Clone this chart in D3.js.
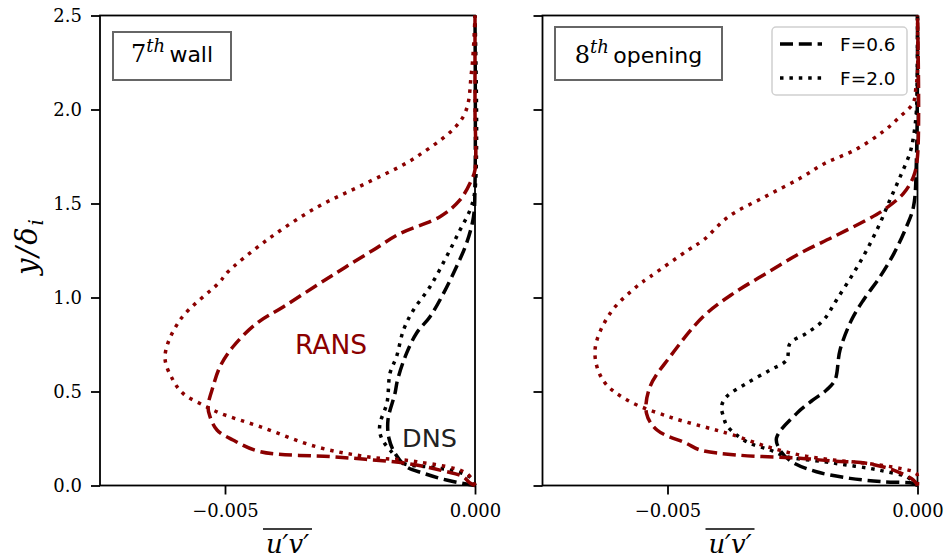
<!DOCTYPE html>
<html><head><meta charset="utf-8">
<script src="https://cdn.jsdelivr.net/npm/d3@7"></script>
<style>
body{margin:0;background:#fff}svg{display:block}
.serif{font-family:"DejaVu Serif","Liberation Serif",serif}
.sans{font-family:"DejaVu Sans",sans-serif}
</style>
</head><body>
<svg id="c" width="947" height="560"></svg>
<script>
// ---------------- data ----------------
const panelNames = ["wall", "opening"];
const panelOrdinals = ["7", "8"];
const legendLabels = ["F=0.6", "F=2.0"];
const yTicks = [0, 0.5, 1.0, 1.5, 2.0, 2.5];
const xTicks = [-0.005, 0.0];
const xDomain = [-0.0075, 0];
const yDomain = [0, 2.5];

// 7th wall
const wallRans06Y = [0, 0.013, 0.047, 0.082, 0.118, 0.136, 0.153, 0.18, 0.242, 0.295, 0.366, 0.42, 0.525, 0.632, 0.738, 0.862, 0.951, 1.093, 1.16, 1.25, 1.34, 1.43, 1.519, 1.625, 1.68, 2.0, 2.5];
const wallRans06X = [0, -0.0001, -0.00024, -0.0007, -0.00137, -0.00204, -0.00284, -0.0043, -0.00484, -0.00516, -0.0053, -0.00534, -0.00524, -0.0051, -0.00484, -0.00437, -0.00383, -0.003, -0.0026, -0.00205, -0.0015, -0.0007, -0.0003, -0.00007, 0, 0, 0];
const wallRans20Y = [0, 0.065, 0.127, 0.153, 0.206, 0.313, 0.385, 0.428, 0.49, 0.561, 0.685, 0.88, 1.084, 1.129, 1.306, 1.48, 1.61, 1.75, 1.96, 2.2, 2.5];
const wallRans20X = [0, -0.00017, -0.00117, -0.00216, -0.00317, -0.0043, -0.0051, -0.00544, -0.00584, -0.00604, -0.0062, -0.0059, -0.0051, -0.00497, -0.00416, -0.00316, -0.00216, -0.00116, -0.00024, -0.00007, 0];
const wallDns06Y = [0, 0.029, 0.065, 0.1, 0.171, 0.25, 0.35, 0.49, 0.561, 0.703, 0.81, 0.898, 1.022, 1.164, 1.288, 1.43, 1.6, 2.5];
const wallDns06X = [0, -0.00057, -0.00103, -0.00137, -0.0016, -0.00172, -0.00174, -0.0016, -0.00155, -0.00137, -0.00117, -0.0009, -0.00063, -0.00037, -0.00017, -0.00003, 0, 0];
const wallDns20Y = [0, 0.03, 0.056, 0.082, 0.1, 0.118, 0.189, 0.233, 0.277, 0.33, 0.44, 0.597, 0.685, 0.827, 0.934, 1.057, 1.217, 1.359, 1.465, 1.572, 2.5];
const wallDns20X = [0, -0.00004, -0.00017, -0.0005, -0.00097, -0.00143, -0.0017, -0.00183, -0.0019, -0.0019, -0.00176, -0.0017, -0.00157, -0.00143, -0.00123, -0.0009, -0.00057, -0.0003, -0.0001, 0, 0];

// 8th opening
const openRans06Y = [0, 0.029, 0.082, 0.118, 0.13, 0.145, 0.162, 0.189, 0.224, 0.295, 0.384, 0.525, 0.685, 0.90, 1.022, 1.129, 1.235, 1.323, 1.412, 1.465, 1.554, 1.643, 1.75, 2.5];
const openRans06X = [0, -0.00008, -0.00048, -0.00102, -0.00169, -0.00235, -0.0036, -0.00435, -0.00462, -0.00521, -0.00542, -0.00535, -0.00495, -0.00428, -0.00368, -0.00302, -0.00235, -0.00168, -0.00102, -0.00068, -0.00028, -0.00008, 0, 0];
const openRans20Y = [0, 0.04, 0.065, 0.091, 0.118, 0.136, 0.162, 0.206, 0.269, 0.30, 0.364, 0.455, 0.56, 0.72, 0.915, 1.06, 1.11, 1.25, 1.306, 1.43, 1.536, 1.634, 1.714, 1.785, 1.882, 1.962, 2.033, 2.12, 2.2, 2.5];
const openRans20X = [0, 0, -0.00002, -0.00035, -0.00102, -0.00169, -0.00235, -0.003, -0.00369, -0.0041, -0.00495, -0.00581, -0.00629, -0.00645, -0.00615, -0.00561, -0.00535, -0.0046, -0.00428, -0.00378, -0.00305, -0.00235, -0.00185, -0.00125, -0.00069, -0.00035, -0.00009, -0.00003, 0, 0];
const openDns06Y = [0, 0.012, 0.02, 0.038, 0.073, 0.127, 0.189, 0.253, 0.385, 0.455, 0.508, 0.561, 0.72, 0.88, 0.987, 1.11, 1.235, 1.377, 1.483, 1.749, 2.5];
const openDns06X = [0, -0.00009, -0.00069, -0.00135, -0.00202, -0.00252, -0.00275, -0.00282, -0.00241, -0.00209, -0.00182, -0.00165, -0.00155, -0.00132, -0.00108, -0.00075, -0.00047, -0.00022, -0.00008, -0.00002, 0];
const openDns20Y = [0, 0.047, 0.073, 0.091, 0.109, 0.127, 0.153, 0.189, 0.224, 0.269, 0.322, 0.366, 0.419, 0.472, 0.543, 0.614, 0.667, 0.756, 0.81, 0.88, 0.987, 1.13, 1.25, 1.395, 1.52, 1.64, 1.77, 1.855, 2.0, 2.5];
const openDns20X = [0, -0.00022, -0.00062, -0.00095, -0.00142, -0.00188, -0.00262, -0.00295, -0.00335, -0.00362, -0.00382, -0.00388, -0.00392, -0.00382, -0.00342, -0.00295, -0.00262, -0.00255, -0.00222, -0.00188, -0.00162, -0.00128, -0.00102, -0.00075, -0.00055, -0.00035, -0.00015, -0.00008, -0.00002, 0];

// ---------------- drawing ----------------
const RED = "#8b0000";
const LW = 3.5;
const DASH = "13,5.8";
const DOT = "3.5,5.9";
const svg = d3.select("#c");
const PW = 375, TOP = 15.5, BOT = 485.5;
const lefts = [100, 542.5];

const zip = (xs, ys) => xs.map((x, i) => [x, ys[i]]);
const panelSeries = [
  [ {d: zip(wallDns06X, wallDns06Y), c: "#000", s: DASH},
    {d: zip(wallDns20X, wallDns20Y), c: "#000", s: DOT},
    {d: zip(wallRans06X, wallRans06Y), c: RED, s: DASH},
    {d: zip(wallRans20X, wallRans20Y), c: RED, s: DOT} ],
  [ {d: zip(openDns06X, openDns06Y), c: "#000", s: DASH},
    {d: zip(openDns20X, openDns20Y), c: "#000", s: DOT},
    {d: zip(openRans06X, openRans06Y), c: RED, s: DASH},
    {d: zip(openRans20X, openRans20Y), c: RED, s: DOT} ]
];

const fmtX = v => v === 0 ? "0.000" : "\u2212" + Math.abs(v).toFixed(3);

panelSeries.forEach((series, p) => {
  const L = lefts[p];
  const x = d3.scaleLinear().domain(xDomain).range([L, L + PW]);
  const y = d3.scaleLinear().domain(yDomain).range([BOT, TOP]);
  const g = svg.append("g");

  // axes
  const ya = d3.axisLeft(y).tickValues(yTicks).tickSize(9).tickPadding(9)
    .tickFormat(p === 0 ? d3.format(".1f") : () => "");
  const gy = g.append("g").attr("transform", `translate(${L},0)`).call(ya);
  const xa = d3.axisBottom(x).tickValues(xTicks).tickSize(9).tickPadding(10).tickFormat(fmtX);
  const gx = g.append("g").attr("transform", `translate(0,${BOT})`).call(xa);
  [gx, gy].forEach(a => {
    a.attr("font-family", null).attr("font-size", null);
    a.select(".domain").remove();
    a.selectAll(".tick line").attr("stroke", "#000").attr("stroke-width", 1.8);
    a.selectAll(".tick text").attr("fill", "#000").attr("class", "serif").style("font-size", "18px");
  });

  // spines
  g.append("rect").attr("x", L).attr("y", TOP).attr("width", PW).attr("height", BOT - TOP)
    .attr("fill", "none").attr("stroke", "#000").attr("stroke-width", 1.8);

  // curves
  const line = d3.line().x(d => x(d[0])).y(d => y(d[1])).curve(d3.curveCatmullRom.alpha(0.5));
  series.forEach(s => {
    g.append("path").attr("d", line(s.d)).attr("fill", "none")
      .attr("stroke", s.c).attr("stroke-width", LW).attr("stroke-dasharray", s.s)
      .attr("stroke-linecap", "butt").attr("stroke-linejoin", "round");
  });

  // x label with overline
  const cx = L + PW / 2;
  g.append("text").attr("class", "serif").attr("x", cx).attr("y", 553).attr("text-anchor", "middle")
    .style("font-style", "italic").style("font-size", "26px").text("u\u2032v\u2032");
  g.append("line").attr("x1", cx - 24.5).attr("x2", cx + 24.5).attr("y1", 529).attr("y2", 529)
    .attr("stroke", "#000").attr("stroke-width", 1.6);

  // title box
  const tb = p === 0 ? {x: 113, y: 32, w: 118, h: 48, ty: 62}
                     : {x: 555, y: 27, w: 167, h: 53, ty: 63};
  g.append("rect").attr("x", tb.x).attr("y", tb.y).attr("width", tb.w).attr("height", tb.h)
    .attr("fill", "#fff").attr("stroke", "#666").attr("stroke-width", 2);
  const t = g.append("text").attr("x", tb.x + tb.w / 2).attr("y", tb.ty).attr("text-anchor", "middle").attr("fill", "#000");
  t.append("tspan").attr("class", "serif").style("font-size", "24px").text(panelOrdinals[p]);
  t.append("tspan").attr("class", "serif").attr("dy", -10).style("font-style", "italic")
    .style("font-size", "18px").text("th");
  t.append("tspan").attr("class", "sans").attr("dy", 10).style("font-size", "22px")
    .text("\u2009" + panelNames[p]);
});

// annotations
svg.append("text").attr("class", "sans").attr("x", 295).attr("y", 354).attr("fill", RED)
  .style("font-size", "26.5px").text("RANS");
svg.append("text").attr("class", "sans").attr("x", 402).attr("y", 447).attr("fill", "#222")
  .style("font-size", "25.5px").text("DNS");

// y label
const yl = svg.append("text").attr("class", "serif").attr("transform", "translate(37,246) rotate(-90)")
  .attr("text-anchor", "middle").style("font-style", "italic").style("font-size", "29px").style("letter-spacing", "2px");
yl.append("tspan").text("y/\u03b4");
yl.append("tspan").attr("dy", 6).style("font-size", "20px").text("i");

// legend
const lg = svg.append("g");
lg.append("rect").attr("x", 772).attr("y", 27).attr("width", 135).attr("height", 68).attr("rx", 4)
  .attr("fill", "#fff").attr("fill-opacity", 0.8).attr("stroke", "#d0d0d0").attr("stroke-width", 1.5);
[DASH, DOT].forEach((s, i) => {
  const cy = 44 + i * 34;
  lg.append("line").attr("x1", 780).attr("x2", 822).attr("y1", cy).attr("y2", cy)
    .attr("stroke", "#000").attr("stroke-width", LW).attr("stroke-dasharray", s);
  lg.append("text").attr("class", "sans").attr("x", 840).attr("y", cy + 7).attr("fill", "#000")
    .style("font-size", "18.5px").text(legendLabels[i]);
});
</script>
</body></html>
